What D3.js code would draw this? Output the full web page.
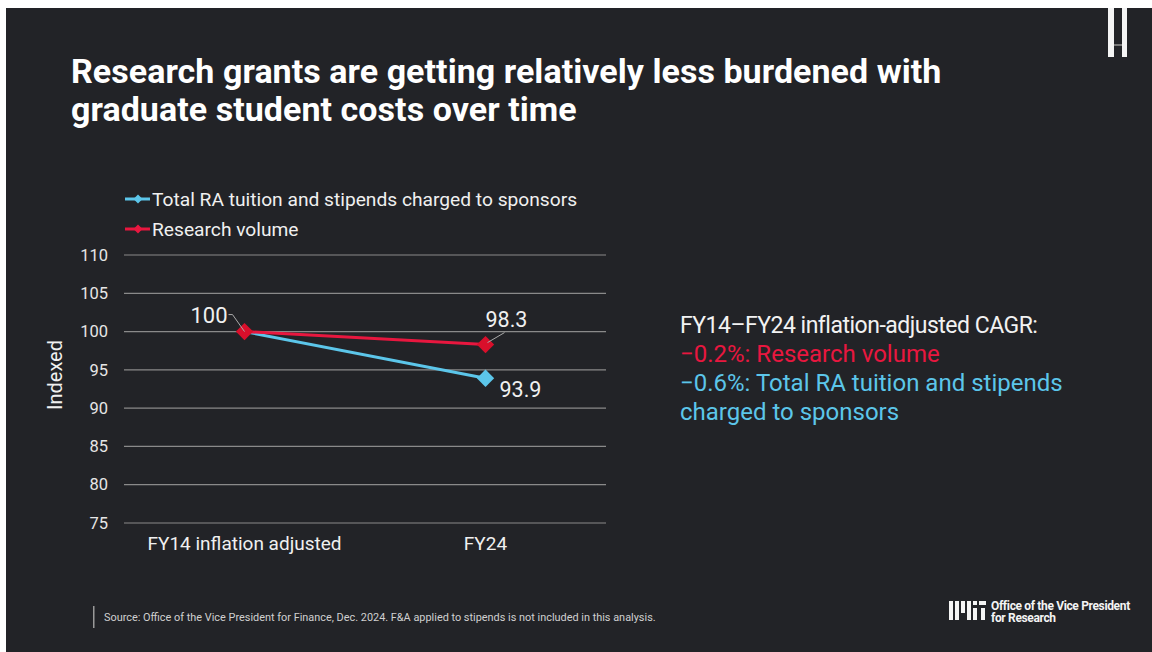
<!DOCTYPE html>
<html><head><meta charset="utf-8">
<script src="https://cdn.jsdelivr.net/npm/d3@7"></script>
<style>
html,body{margin:0;padding:0;background:#fff;}
svg{display:block;font-family:Roboto,"Noto Sans",sans-serif;}
</style></head>
<body>
<svg id="c" width="1152" height="652"></svg>
<script>
const categories = ["FY14 inflation adjusted", "FY24"];
const seriesNames = ["Total RA tuition and stipends charged to sponsors", "Research volume"];
const raTuition = [100, 93.9];
const researchVolume = [100, 98.3];
const yTicks = [75, 80, 85, 90, 95, 100, 105, 110];
const titleLines = ["Research grants are getting relatively less burdened with", "graduate student costs over time"];
const noteLines = [
  {text: "FY14\u2013FY24 inflation-adjusted CAGR:", color: "#f2f2f2", fs: 23, ls: -0.5},
  {text: "\u22120.2%: Research volume", color: "#e8173f", fs: 24, ls: 0},
  {text: "\u22120.6%: Total RA tuition and stipends", color: "#5cc6ea", fs: 24, ls: 0},
  {text: "charged to sponsors", color: "#5cc6ea", fs: 24, ls: 0}
];
const sourceText = "Source: Office of the Vice President for Finance, Dec. 2024. F&A applied to stipends is not included in this analysis.";

const RED = "#e8173f", BLUE = "#5cc6ea";
const svg = d3.select("#c");
svg.append("rect").attr("x", 6).attr("y", 8).attr("width", 1146).attr("height", 644).attr("fill", "#222327");

// top-right mark
svg.append("rect").attr("x", 1108).attr("y", 8).attr("width", 6).attr("height", 49).attr("fill", "#f4f4f4");
svg.append("rect").attr("x", 1122).attr("y", 8).attr("width", 5).attr("height", 49).attr("fill", "#f4f4f4");
svg.append("rect").attr("x", 1114).attr("y", 44).attr("width", 8).attr("height", 2).attr("fill", "#777");

// title
svg.append("g").selectAll("text").data(titleLines).join("text")
  .attr("x", 71).attr("y", (d, i) => 83 + i * 38)
  .attr("fill", "#ffffff").attr("font-size", 34).attr("font-weight", 700).attr("letter-spacing", 0.05)
  .text(d => d);

// scales
const x = d3.scaleBand().domain(categories).range([124, 606]);
const y = d3.scaleLinear().domain([75, 110]).range([523, 255]);

// grid + y axis
const yAxis = d3.axisLeft(y).tickValues(yTicks).tickSize(0).tickPadding(0);
const gy = svg.append("g").attr("transform", "translate(108,0)").call(yAxis);
gy.select(".domain").remove();
gy.selectAll("text").attr("fill", "#e6e6e6").attr("font-size", 16.5).attr("font-family", "Roboto,sans-serif");
svg.append("g").selectAll("line").data(yTicks).join("line")
  .attr("x1", 124).attr("x2", 606).attr("y1", d => y(d)).attr("y2", d => y(d))
  .attr("stroke", "#8a8a8a").attr("stroke-width", 1.2);

// x axis labels
const xAxis = d3.axisBottom(x).tickSize(0).tickPadding(0);
const gx = svg.append("g").attr("transform", "translate(0,533)").call(xAxis);
gx.select(".domain").remove();
gx.selectAll("text").attr("fill", "#f0f0f0").attr("font-size", 19).attr("font-family", "Roboto,sans-serif").attr("dy", "0.9em");

// y title
svg.append("text").attr("transform", "translate(62,375) rotate(-90)")
  .attr("text-anchor", "middle").attr("fill", "#f0f0f0").attr("font-size", 20).text("Indexed");

const cx = d => x(d) + x.bandwidth() / 2;
const line = d3.line().x((d, i) => cx(categories[i])).y(d => y(d));

function drawSeries(vals, color) {
  svg.append("path").datum(vals).attr("d", line).attr("fill", "none").attr("stroke", color).attr("stroke-width", 3);
}
drawSeries(raTuition, BLUE);
drawSeries(researchVolume, RED);
const sq = d3.symbol().type(d3.symbolSquare).size(150)();
svg.append("path").attr("d", sq)
  .attr("transform", `translate(${cx(categories[1])},${y(raTuition[1])}) rotate(45)`).attr("fill", BLUE);
svg.append("path").attr("d", sq)
  .attr("transform", `translate(${cx(categories[1])},${y(researchVolume[1])}) rotate(45)`).attr("fill", "#d90f2b");
svg.append("path").attr("d", sq)
  .attr("transform", `translate(${cx(categories[0])},${y(researchVolume[0])}) rotate(45)`).attr("fill", "#d90f2b");

// data labels with leaders
const x0 = cx(categories[0]), x1 = cx(categories[1]);
svg.append("polyline").attr("points", `${x0 - 16},${y(100) - 17} ${x0 - 12},${y(100) - 17} ${x0},${y(100)}`)
  .attr("fill", "none").attr("stroke", "#aaa").attr("stroke-width", 1);
svg.append("text").attr("x", x0 - 17).attr("y", y(100) - 9).attr("text-anchor", "end")
  .attr("fill", "#f0f0f0").attr("font-size", 22).text(String(researchVolume[0]));
svg.append("line").attr("x1", x1 + 2).attr("y1", y(researchVolume[1]) - 2).attr("x2", x1 + 19).attr("y2", y(researchVolume[1]) - 12)
  .attr("stroke", "#aaa").attr("stroke-width", 1);
svg.append("text").attr("x", x1 + 21).attr("y", y(researchVolume[1]) - 18).attr("text-anchor", "middle")
  .attr("fill", "#f0f0f0").attr("font-size", 21.5).text(researchVolume[1].toFixed(1));
svg.append("text").attr("x", x1 + 14).attr("y", y(raTuition[1]) + 19)
  .attr("fill", "#f0f0f0").attr("font-size", 21.5).text(raTuition[1].toFixed(1));

// legend
const leg = svg.append("g").selectAll("g").data([{name: seriesNames[0], c: BLUE}, {name: seriesNames[1], c: RED}]).join("g")
  .attr("transform", (d, i) => `translate(125,${199 + i * 30})`);
leg.append("line").attr("x1", 0).attr("x2", 25).attr("stroke", d => d.c).attr("stroke-width", 3);
leg.append("path").attr("d", d3.symbol().type(d3.symbolSquare).size(40)()).attr("transform", "translate(13,0) rotate(45)").attr("fill", d => d.c);
leg.append("text").attr("x", 27).attr("y", 0).attr("dy", "0.35em").attr("fill", "#f0f0f0").attr("font-size", 19.2).text(d => d.name);

// right note
svg.append("g").selectAll("text").data(noteLines).join("text")
  .attr("x", 680).attr("y", (d, i) => 333 + i * 29)
  .attr("fill", d => d.color).attr("font-size", d => d.fs).attr("letter-spacing", d => d.ls).text(d => d.text);

// source
svg.append("rect").attr("x", 93).attr("y", 606).attr("width", 1.5).attr("height", 22).attr("fill", "#999");
svg.append("text").attr("x", 104).attr("y", 621).attr("fill", "#d0d0d0").attr("font-size", 10.9).text(sourceText);

// MIT logo
const logo = svg.append("g").attr("transform", "translate(949,601)");
[[0,0,4,19],[6,0,4,19],[12,0,4,12],[18,0,4,19],[24,0,4,4],[24,7,4,12],[30,0,7,4],[32,7,4,12]].forEach(r => {
  logo.append("rect").attr("x", r[0]).attr("y", r[1]).attr("width", r[2]).attr("height", r[3]).attr("fill", "#f4f4f4");
});
svg.append("text").attr("x", 991).attr("y", 610).attr("fill", "#f4f4f4").attr("font-size", 12).attr("font-weight", 700).attr("letter-spacing", -0.35).text("Office of the Vice President");
svg.append("text").attr("x", 991).attr("y", 622).attr("fill", "#f4f4f4").attr("font-size", 12).attr("font-weight", 700).attr("letter-spacing", -0.35).text("for Research");
</script>
</body></html>
